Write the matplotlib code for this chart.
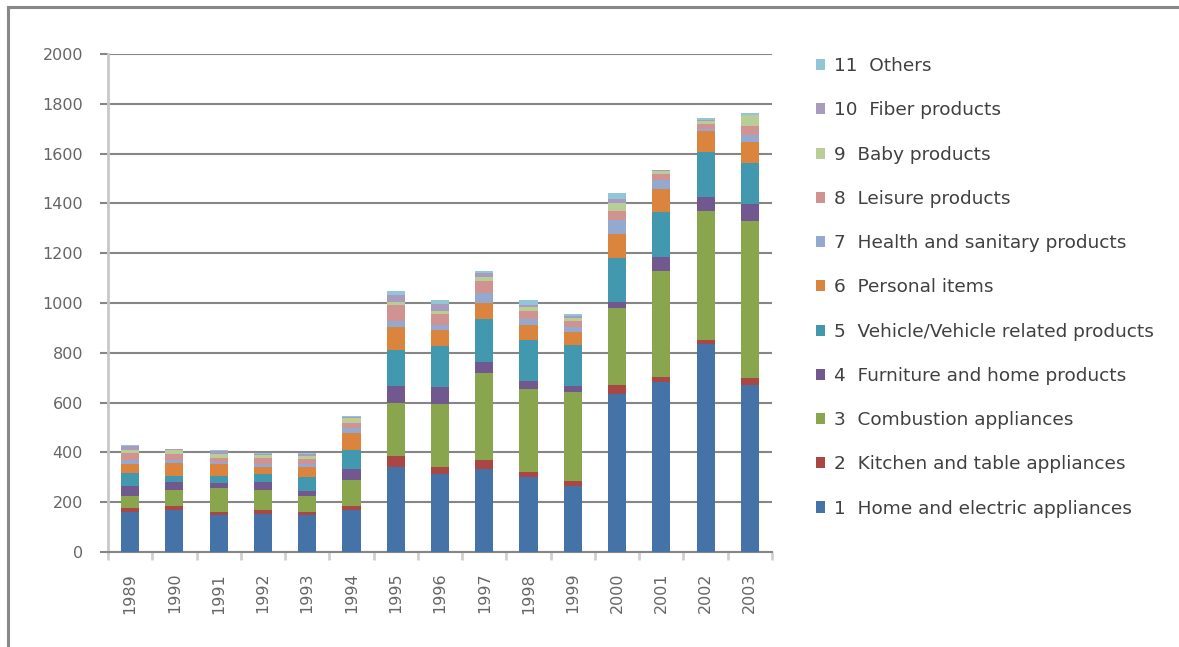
import matplotlib
matplotlib.use("Agg")
import matplotlib.pyplot as plt
import numpy as np
from matplotlib.patches import Patch
from matplotlib.lines import Line2D

plt.rcParams['font.family'] = ['DejaVu Sans']

years = ["1989", "1990", "1991", "1992", "1993", "1994", "1995", "1996",
         "1997", "1998", "1999", "2000", "2001", "2002", "2003"]

categories = [
    "1  Home and electric appliances",
    "2  Kitchen and table appliances",
    "3  Combustion appliances",
    "4  Furniture and home products",
    "5  Vehicle/Vehicle related products",
    "6  Personal items",
    "7  Health and sanitary products",
    "8  Leisure products",
    "9  Baby products",
    "10  Fiber products",
    "11  Others",
]

home      = [160, 169, 147, 154, 147, 169, 340, 313, 332, 300, 265, 635, 683, 834, 669]
kitchen   = [17, 15, 12, 16, 12, 15, 44, 27, 36, 21, 20, 34, 19, 16, 29]
combust   = [47, 64, 97, 78, 65, 104, 213, 254, 350, 332, 358, 310, 425, 518, 630]
furniture = [40, 32, 20, 32, 20, 44, 70, 67, 45, 33, 24, 24, 57, 56, 70]
vehicle   = [52, 24, 28, 33, 56, 76, 144, 166, 172, 165, 163, 177, 180, 182, 163]
personal  = [37, 52, 49, 27, 40, 69, 91, 65, 64, 59, 54, 96, 93, 84, 84]
health    = [16, 15, 10, 15, 13, 21, 24, 18, 40, 24, 18, 57, 37, 8, 28]
leisure   = [27, 24, 15, 21, 19, 19, 65, 46, 48, 33, 26, 35, 23, 21, 37]
baby      = [15, 13, 16, 12, 14, 21, 12, 11, 16, 16, 12, 32, 12, 11, 44]
fiber     = [15, 4, 10, 6, 8, 4, 28, 28, 16, 10, 8, 16, 4, 4, 2]
others    = [5, 3, 4, 4, 4, 4, 16, 16, 8, 18, 8, 24, 3, 8, 6]

series = [home, kitchen, combust, furniture, vehicle, personal,
          health, leisure, baby, fiber, others]

colors = ["#4572A7", "#AA4643", "#89A54E", "#71588F", "#4198AF", "#DB843D",
          "#93A9CF", "#D19392", "#B9CD96", "#A99BBD", "#92C5D6"]

W, H = 1179, 647
fig = plt.figure(figsize=(W / 100, H / 100), dpi=100)
fig.patch.set_facecolor("white")

# outer frame (left and top lines)
fig.add_artist(Line2D([8 / W, 8 / W], [0, 1 - 7 / H], color="#888888", lw=2.2,
                      transform=fig.transFigure))
fig.add_artist(Line2D([8 / W, 1], [1 - 7 / H, 1 - 7 / H], color="#888888", lw=2.2,
                      transform=fig.transFigure))

ax = fig.add_axes([108 / W, (H - 552) / H, (772 - 108) / W, (552 - 54) / H])
x = np.arange(len(years))
bottom = np.zeros(len(years))
for vals, col, lab in zip(series, colors, categories):
    ax.bar(x, vals, width=0.41, bottom=bottom, color=col, label=lab,
           edgecolor="none", zorder=3)
    bottom += np.array(vals)

ax.set_xlim(-0.5, len(years) - 0.5)
ax.set_ylim(0, 2000)
ax.set_yticks(np.arange(0, 2001, 200))
ax.yaxis.grid(True, color="#868686", lw=1.5, zorder=0)
ax.set_axisbelow(True)

for s in ["top", "right"]:
    ax.spines[s].set_visible(False)
ax.spines["left"].set_color("#c8c8c8")
ax.spines["left"].set_linewidth(2)
ax.spines["bottom"].set_color("#868686")
ax.spines["bottom"].set_linewidth(1.5)

ax.tick_params(axis="y", length=6, width=1.5, color="#868686",
               labelcolor="#666666", labelsize=11.5, pad=12)
ax.set_xticks(x)
ax.set_xticklabels(years, rotation=90, fontsize=11.5, color="#666666")
ax.tick_params(axis="x", length=0, pad=15)
ax.set_xticks(np.arange(-0.5, len(years)), minor=True)
ax.tick_params(axis="x", which="minor", length=6, width=2, color="#d0d0d0")

handles = [Patch(facecolor=c, edgecolor="none") for c in colors]
leg = fig.legend(handles[::-1], categories[::-1], loc="upper left",
                 bbox_to_anchor=(807 / W, 1 - 48 / H), frameon=False,
                 fontsize=13.3, labelspacing=1.42, handlelength=0.5,
                 handleheight=0.55, handletextpad=0.45, borderpad=0)
for t in leg.get_texts():
    t.set_color("#404040")

fig.savefig("out.png", dpi=100, facecolor="white")
